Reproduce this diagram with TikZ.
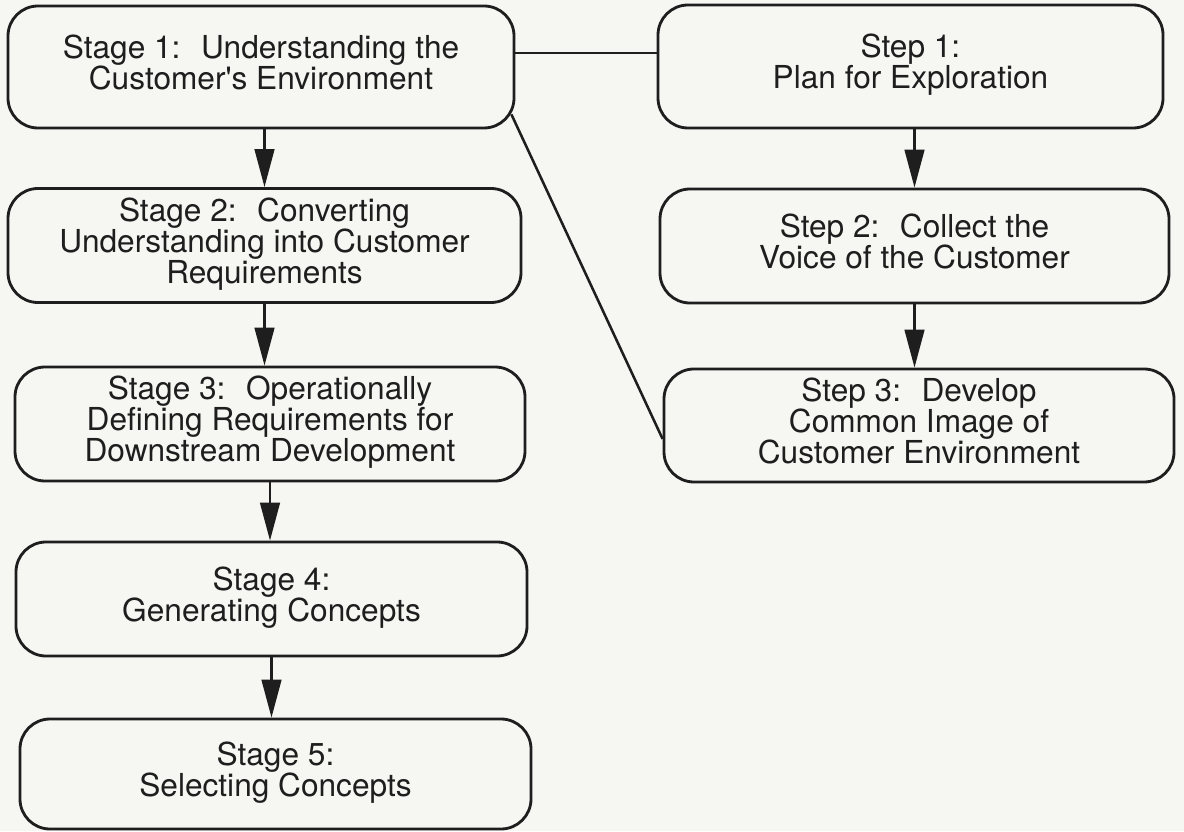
\documentclass[tikz,border=0pt]{standalone}
\usepackage{fontspec}
\setmainfont{TeX Gyre Heros}
\usetikzlibrary{arrows.meta}
\definecolor{paper}{RGB}{246,246,242}
\definecolor{ink}{RGB}{30,30,30}

\begin{document}
\begin{tikzpicture}[
  stagebox/.style={draw=ink, line width=2pt, rounded corners=0.75cm,
    minimum width=12.75cm, minimum height=2.85cm, align=center,
    text depth=0.25cm, text=ink, font=\fontsize{22.5}{22}\selectfont},
  flow/.style={draw=ink, line width=1.7pt, -{Triangle[length=27pt,width=14pt]}},
  link/.style={draw=ink, line width=1.8pt}
]
\fill[paper] (0,0) rectangle (29.6,20.775);

% stages
\node[stagebox, minimum width=12.65cm, minimum height=3.05cm] (s1) at (6.525,19.1)
  {Stage 1: \ Understanding the\\Customer\textquotesingle s Environment};
\node[stagebox, minimum width=12.825cm] (s2) at (6.6125,14.6375)
  {Stage 2: \ Converting\\Understanding into Customer\\Requirements};
\node[stagebox] (s3) at (6.75,10.175)
  {Stage 3: \ Operationally\\Defining Requirements for\\Downstream Development};
\node[stagebox, minimum width=12.775cm] (s4) at (6.7875,5.8)
  {Stage 4:\\Generating Concepts};
\node[stagebox, minimum width=12.775cm, minimum height=2.75cm] (s5) at (6.8875,1.425)
  {Stage 5:\\Selecting Concepts};

% steps of stage 1
\node[stagebox, minimum width=12.625cm, minimum height=3.075cm] (t1) at (22.7625,19.1125)
  {Step 1:\\Plan for Exploration};
\node[stagebox, minimum width=12.725cm] (t2) at (22.8625,14.625)
  {Step 2: \ Collect the\\Voice of the Customer};
\node[stagebox, minimum height=2.825cm] (t3) at (22.975,10.1375)
  {Step 3: \ Develop\\Common Image of\\Customer Environment};

\draw[flow] (s2.north |- s1.south) -- (s2.north);
\draw[flow] (s2.south) -- (s2.south |- s3.north);
\draw[flow] (s3.south) -- (s3.south |- s4.north);
\draw[flow] (s4.south) -- (s4.south |- s5.north);

\draw[flow] (t2.north |- t1.south) -- (t2.north);
\draw[flow] (t2.south) -- (t2.south |- t3.north);

\draw[link] ([yshift=0.35cm]s1.east) -- ([yshift=0.35cm]s1.east -| t1.west);
\draw[link] ([shift={(-0.1cm,0.375cm)}]s1.south east) -- (t3.183);
\end{tikzpicture}
\end{document}
